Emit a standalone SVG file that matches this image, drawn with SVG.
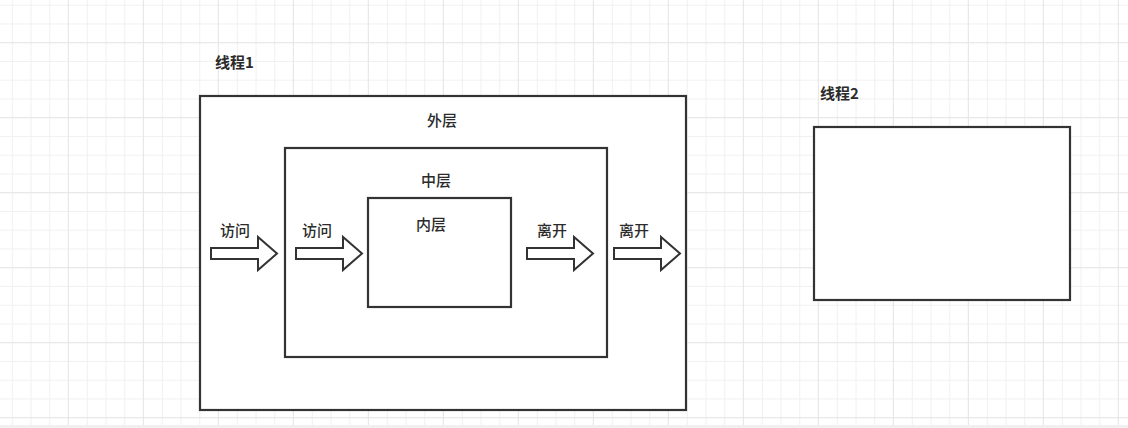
<svg xmlns="http://www.w3.org/2000/svg" xmlns:xlink="http://www.w3.org/1999/xlink" width="1128" height="428" viewBox="0 0 1128 428">
  <style>
    .box { fill: #ffffff; stroke: #333333; stroke-width: 2.2; }
    .arrow { fill: #ffffff; stroke: #333333; stroke-width: 2; stroke-linejoin: miter; }
    .lbl { font-family: "Noto Sans CJK SC", "Noto Sans", sans-serif; font-size: 15px; font-weight: 500; fill: #2b2b2b; }
    .title { font-weight: bold; }
    .mid { text-anchor: middle; }
  </style>
  <defs>
    <pattern id="minor" patternUnits="userSpaceOnUse" x="11.8" y="4.7" width="18.75" height="18.75">
      <path d="M0.5 0 V18.75 M0 0.5 H18.75" stroke="#f0f0f0" stroke-width="1" fill="none"/>
    </pattern>
    <pattern id="major" patternUnits="userSpaceOnUse" x="67.8" y="42.2" width="75" height="75">
      <path d="M0.5 0 V75 M0 0.5 H75" stroke="#e6e6e6" stroke-width="1" fill="none"/>
    </pattern>
    <path id="blockArrow" d="M0 -5.5 H47 V-16.5 L66 0 L47 16.5 V5.5 H0 Z"/>
  </defs>

  <g id="background">
    <rect x="0" y="0" width="1128" height="428" fill="#ffffff"/>
    <rect x="0" y="0" width="1128" height="428" fill="url(#minor)"/>
    <rect x="0" y="0" width="1128" height="428" fill="url(#major)"/>
    <rect x="0" y="425" width="1128" height="3" fill="#f0f0f0"/>
  </g>

  <g id="thread1-label">
    <text class="lbl title" x="215" y="68">线程1</text>
  </g>

  <g id="outer-layer">
    <rect class="box" x="200" y="96" width="486" height="314"/>
    <text class="lbl mid" x="442" y="126">外层</text>
  </g>

  <g id="middle-layer">
    <rect class="box" x="285" y="148" width="322" height="209"/>
    <text class="lbl mid" x="436" y="186">中层</text>
  </g>

  <g id="inner-layer">
    <rect class="box" x="368" y="198" width="143" height="109"/>
    <text class="lbl mid" x="431" y="230">内层</text>
  </g>

  <g id="thread2">
    <text class="lbl title" x="820" y="99">线程2</text>
    <rect class="box" x="814" y="127" width="256" height="173"/>
  </g>

  <g id="connectors">
    <g id="access-outer">
      <use xlink:href="#blockArrow" href="#blockArrow" class="arrow" x="211" y="253.5"/>
      <text class="lbl" x="220" y="236">访问</text>
    </g>
    <g id="access-middle">
      <use xlink:href="#blockArrow" href="#blockArrow" class="arrow" x="296" y="253.5"/>
      <text class="lbl" x="302" y="236">访问</text>
    </g>
    <g id="leave-inner">
      <use xlink:href="#blockArrow" href="#blockArrow" class="arrow" x="527" y="253.5"/>
      <text class="lbl" x="537" y="236">离开</text>
    </g>
    <g id="leave-middle">
      <use xlink:href="#blockArrow" href="#blockArrow" class="arrow" x="614" y="253.5"/>
      <text class="lbl" x="619" y="236">离开</text>
    </g>
  </g>
</svg>
